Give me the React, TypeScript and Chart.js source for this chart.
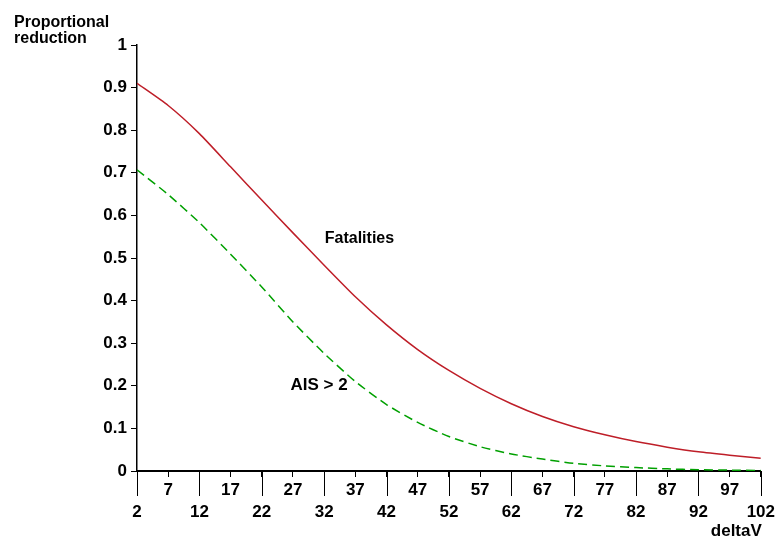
import React, { useEffect, useRef } from 'react';
import { Chart, registerables } from 'chart.js';

Chart.register(...registerables);

const deltaV = [2, 7, 12, 17, 22, 27, 32, 37, 42, 47, 52, 57, 62, 67, 72, 77, 82, 87, 92, 97, 102];
const fatalities = [0.91, 0.858, 0.792, 0.714, 0.636, 0.559, 0.483, 0.409, 0.343, 0.285, 0.236, 0.194, 0.158, 0.128, 0.104, 0.085, 0.069, 0.056, 0.045, 0.037, 0.03];
const aisOver2 = [0.707, 0.649, 0.583, 0.509, 0.432, 0.35, 0.276, 0.21, 0.156, 0.114, 0.081, 0.057, 0.04, 0.028, 0.018, 0.012, 0.008, 0.005, 0.003, 0.002, 0.001];
const xTicks = [2, 7, 12, 17, 22, 27, 32, 37, 42, 47, 52, 57, 62, 67, 72, 77, 82, 87, 92, 97, 102];
const xMajorTicks = [2, 12, 22, 32, 42, 52, 62, 72, 82, 92, 102];
const yTicks = [0, 0.1, 0.2, 0.3, 0.4, 0.5, 0.6, 0.7, 0.8, 0.9, 1];
const yTitle = ['Proportional', 'reduction'];
const xTitle = 'deltaV';
const seriesNames = ['Fatalities', 'AIS > 2'];
// label anchor (data coordinates: left x, baseline y)
const labelX = [32.1, 26.6];
const labelY = [0.536, 0.19];

const FONT = '"Liberation Sans", Arial, Helvetica, sans-serif';
const RED = 'rgb(190, 30, 40)';
const GREEN = 'rgb(0, 160, 0)';

const overlay = {
  id: 'overlay',
  afterDraw(chart: any) {
    const ctx = chart.ctx;
    const x = chart.scales.x;
    const y = chart.scales.y;
    ctx.save();
    ctx.strokeStyle = '#000';
    ctx.lineWidth = 1;
    for (const v of xMajorTicks) {
      const px = Math.round(x.getPixelForValue(v)) + 0.5;
      ctx.beginPath();
      ctx.moveTo(px, y.bottom);
      ctx.lineTo(px, y.bottom + 25);
      ctx.stroke();
    }
    ctx.fillStyle = '#000';
    ctx.textAlign = 'left';
    ctx.textBaseline = 'alphabetic';
    ctx.font = `bold 16px ${FONT}`;
    ctx.fillText(yTitle[0], 14, 27);
    ctx.fillText(yTitle[1], 14, 43);
    ctx.font = `bold 16px ${FONT}`;
    ctx.fillText(seriesNames[0], x.getPixelForValue(labelX[0]), y.getPixelForValue(labelY[0]));
    ctx.font = `bold 17px ${FONT}`;
    ctx.fillText(seriesNames[1], x.getPixelForValue(labelX[1]), y.getPixelForValue(labelY[1]));
    ctx.textAlign = 'right';
    ctx.fillText(xTitle, x.right + 1, 536);
    ctx.restore();
  },
};

export default function App() {
  const ref = useRef<HTMLCanvasElement | null>(null);
  useEffect(() => {
    if (!ref.current) return;
    const chart = new Chart(ref.current, {
      type: 'line',
      data: {
        datasets: [
          {
            label: seriesNames[0],
            data: deltaV.map((v, i) => ({ x: v, y: fatalities[i] })),
            borderColor: RED,
            borderWidth: 1.5,
            pointRadius: 0,
            fill: false,
            tension: 0.2,
          },
          {
            label: seriesNames[1],
            data: deltaV.map((v, i) => ({ x: v, y: aisOver2[i] })),
            borderColor: GREEN,
            borderWidth: 1.5,
            borderDash: [9, 5],
            pointRadius: 0,
            fill: false,
            tension: 0.2,
          },
        ],
      },
      options: {
        animation: false,
        responsive: false,
        devicePixelRatio: 1,
        layout: { padding: { top: 45, right: 16, left: 0, bottom: 0 } },
        plugins: { legend: { display: false }, tooltip: { enabled: false }, title: { display: false } },
        scales: {
          x: {
            type: 'linear',
            min: 2,
            max: 102,
            afterBuildTicks: (s: any) => {
              s.ticks = xTicks.map((v) => ({ value: v }));
            },
            afterFit: (s: any) => {
              s.height = 67;
            },
            grid: { drawOnChartArea: false, drawTicks: true, tickLength: 6, color: '#000', tickColor: '#000', lineWidth: 1 },
            border: { display: true, color: '#000', width: 2 },
            ticks: {
              autoSkip: false,
              maxRotation: 0,
              minRotation: 0,
              padding: 3,
              color: '#000',
              font: { family: FONT, size: 17, weight: 'bold', lineHeight: 1.25 },
              callback: (v: any) => (xMajorTicks.includes(v) ? ['', String(v)] : [String(v)]),
            },
          },
          y: {
            type: 'linear',
            min: 0,
            max: 1,
            afterBuildTicks: (s: any) => {
              s.ticks = yTicks.map((v) => ({ value: v }));
            },
            afterFit: (s: any) => {
              s.width = 137;
            },
            grid: { drawOnChartArea: false, drawTicks: true, tickLength: 6, color: '#000', tickColor: '#000', lineWidth: 1 },
            border: { display: true, color: '#000', width: 1.5 },
            ticks: {
              padding: 4,
              color: '#000',
              font: { family: FONT, size: 17, weight: 'bold' },
              callback: (v: any) => String(Number(Number(v).toFixed(1))),
            },
          },
        },
      },
      plugins: [overlay],
    } as any);
    return () => chart.destroy();
  }, []);
  return (
    <div style={{ position: 'absolute', left: 0, top: 0, width: 778, height: 538 }}>
      <canvas ref={ref} width={778} height={538} style={{ display: 'block', width: 778, height: 538 }} />
    </div>
  );
}
